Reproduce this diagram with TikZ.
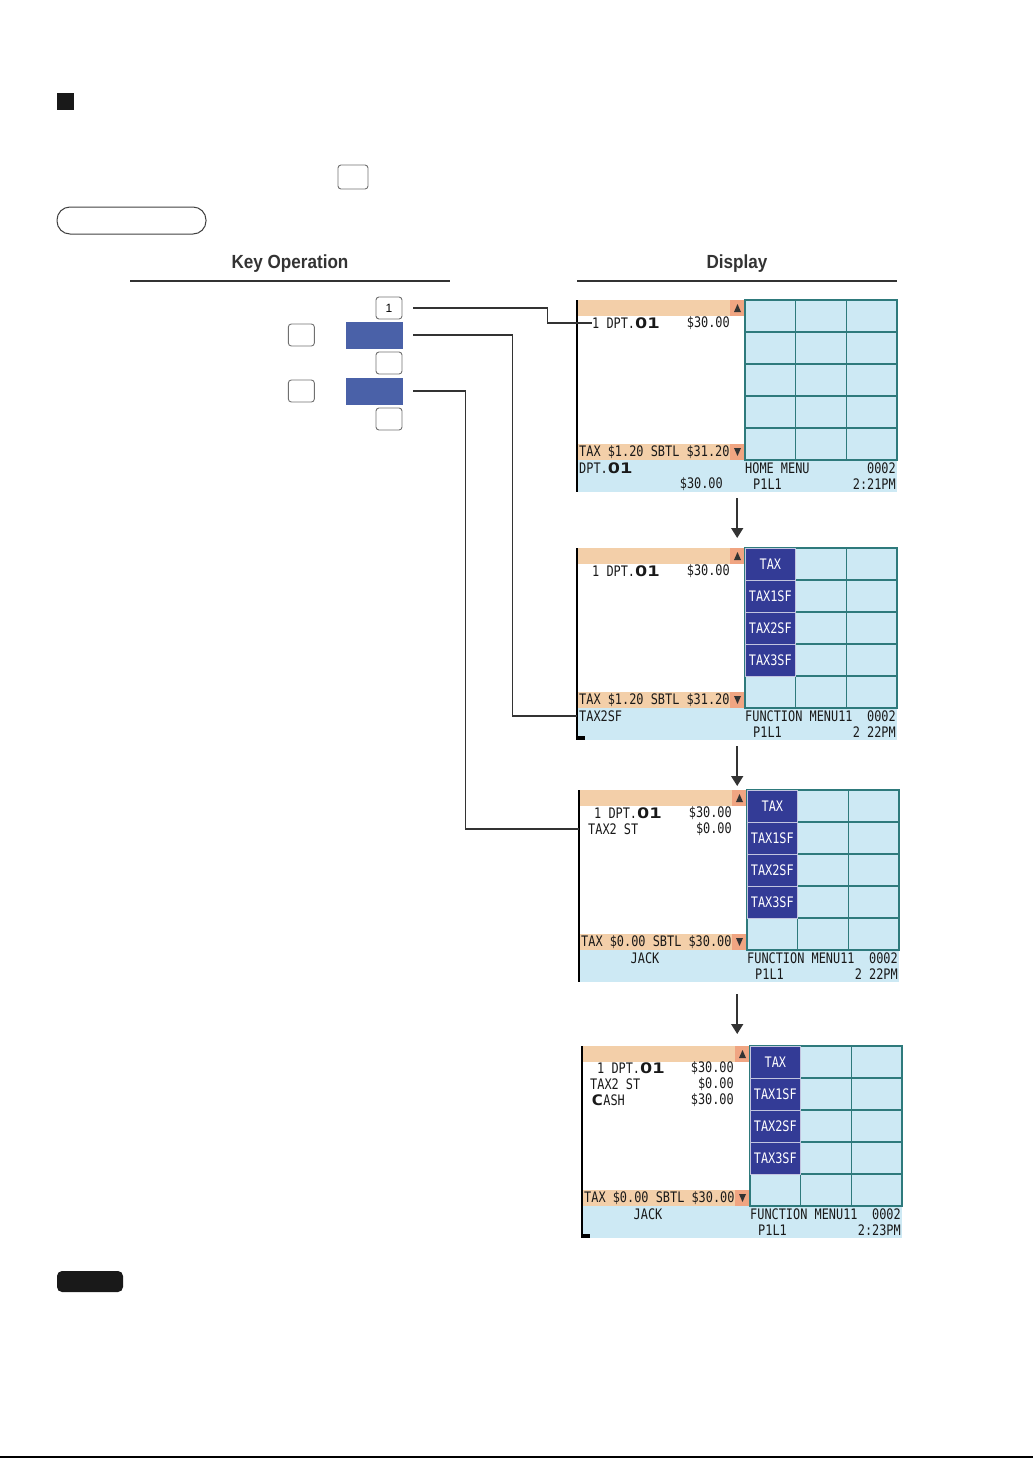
\documentclass[tikz,border=0pt]{standalone}
\usepackage{fontspec}
\setmainfont{Liberation Sans}
\newfontfamily\headfont[FakeStretch=0.9]{Liberation Sans}
\newfontfamily\lcdfont[FakeStretch=0.82]{DejaVu Sans Mono}
\newfontfamily\lcdwide[FakeStretch=1.4]{DejaVu Sans Mono}
\usepackage{xcolor}
\usetikzlibrary{arrows.meta,positioning,calc}

\definecolor{barOrange}{HTML}{F3CFA9}
\definecolor{arrowCell}{HTML}{F0A582}
\definecolor{lcdBlue}{HTML}{CDE9F4}
\definecolor{gridTeal}{HTML}{2E7A7C}
\definecolor{keyBlue}{HTML}{4A61A8}
\definecolor{menuBlue}{HTML}{333B96}
\definecolor{lineGrey}{HTML}{333333}
\definecolor{keyGrey}{HTML}{707070}

\newcommand{\lcdtext}{\lcdfont\fontsize{14.5}{15}\selectfont}
\newcommand{\bigO}[1]{{\lcdwide\bfseries #1}}

\tikzset{
  keybox/.style={draw=keyGrey, line width=0.9pt, rounded corners=3pt, minimum width=26pt, minimum height=22pt, font=\fontsize{12}{12}\selectfont},
  fnkey/.style={fill=keyBlue, minimum width=57pt, minimum height=27pt},
  wire/.style={draw=lineGrey, line width=1.1pt},
  nextscreen/.style={draw=lineGrey, line width=1.6pt, -{Triangle[length=10pt,width=12pt]}},
  headtitle/.style={font=\headfont\bfseries\fontsize{19}{19}\selectfont, text=black!80},
  headrule/.style={draw=black!80, line width=2pt},
  lcdframe/.style={minimum width=320pt, minimum height=192pt, anchor=north west},
  lcdtxt/.style={font=\lcdtext, text=black!90, anchor=west},
  lcdright/.style={font=\lcdtext, text=black!90, anchor=east},
  menucell/.style={fill=menuBlue, draw=white!70!menuBlue, line width=0.8pt, minimum width=50.67pt, minimum height=32pt, text=white, font=\lcdtext},
  screen/.pic={
    \fill[barOrange] (0,0) rectangle (153,16);
    \fill[arrowCell] (153,0) rectangle (168,16);
    \fill[barOrange] (0,144) rectangle (153,160);
    \fill[arrowCell] (153,144) rectangle (168,160);
    \fill[lcdBlue] (0,160) rectangle (320,192);
    \foreach \c in {0,1,2}
      \foreach \r in {0,...,4}
        \filldraw[fill=lcdBlue, draw=gridTeal, line width=1.2pt] ({168+\c*50.67},{\r*32}) rectangle ++(50.67,32);
    \fill[lineGrey] (157,12) -- (164,12) -- (160.5,4) -- cycle;
    \fill[lineGrey] (157,148) -- (164,148) -- (160.5,156) -- cycle;
    \draw[black, line width=1.4pt] (0,0) -- (0,192);
  },
  fnmenu/.pic={
    \foreach \lbl [count=\r from 0] in {TAX,TAX1SF,TAX2SF,TAX3SF}
      \node[menucell] (m\r) at ({168+25.33},{\r*32+16}) {\lbl};
  }
}

\begin{document}
\begin{tikzpicture}[x=1pt, y=-1pt, every node/.style={inner sep=0pt}]
\useasboundingbox (0,0) rectangle (1033,1459);

% top marks
\node[fill=black!90, minimum size=17pt, anchor=north west] (mark) at (57,93) {};
\node[keybox, minimum width=30pt, minimum height=24pt] (topkey) at (353,177) {};
\node[draw=black!75, line width=1pt, rounded corners=13pt, minimum width=149pt, minimum height=27pt] (pill) at (131.5,220.5) {};

% headings
\node[headtitle] (keyhead) at (290,264) {Key Operation};
\node[headtitle] (disphead) at (737,264) {Display};
\draw[headrule] (130,281) -- (450,281);
\draw[headrule] (577,281) -- (897,281);

% key operation
\node[keybox] (key1) at (389,308) {1};
\node[fnkey] (fn1) at (374.5,335) {};
\node[keybox, left=31pt of fn1] (keyA) {};
\node[keybox] (key3) at (389,363) {};
\node[fnkey] (fn2) at (374.5,391) {};
\node[keybox, left=31pt of fn2] (keyB) {};
\node[keybox] (key5) at (389,419) {};

% display 1
\begin{scope}[shift={(577,300)}]
\pic at (0,0) {screen};
\node[lcdframe] (d1) at (0,0) {};
\node[lcdtxt] (d1l1) at (15,23) {1 DPT.\bigO{O1}};
\node[lcdright] (d1a1) at (153,23) {\$30.00};
\node[lcdtxt] (d1bar) at (2,152) {TAX \$1.20 SBTL \$31.20};
\node[lcdtxt] (d1i1) at (2,168) {DPT.\bigO{O1}};
\node[lcdtxt] (d1menu) at (168,168) {HOME MENU};
\node[lcdright] (d1no) at (319,168) {0002};
\node[lcdright] (d1i2) at (146,184) {\$30.00};
\node[lcdtxt] (d1pos) at (176,184) {P1L1};
\node[lcdright] (d1time) at (319,184) {2:21PM};
\end{scope}

% display 2
\begin{scope}[shift={(577,548)}]
\pic at (0,0) {screen};
\pic at (0,0) {fnmenu};
\node[lcdframe] (d2) at (0,0) {};
\node[lcdtxt] (d2l1) at (15,23) {1 DPT.\bigO{O1}};
\node[lcdright] (d2a1) at (153,23) {\$30.00};
\node[lcdtxt] (d2bar) at (2,152) {TAX \$1.20 SBTL \$31.20};
\node[lcdtxt] (d2i1) at (2,168) {TAX2SF};
\node[lcdtxt] (d2menu) at (168,168) {FUNCTION MENU11};
\node[lcdright] (d2no) at (319,168) {0002};
\node[lcdtxt] (d2pos) at (176,184) {P1L1};
\node[lcdright] (d2time) at (319,184) {2 22PM};
\fill[black] (0,188) rectangle (8,192);
\end{scope}

% display 3
\begin{scope}[shift={(579,790)}]
\pic at (0,0) {screen};
\pic at (0,0) {fnmenu};
\node[lcdframe] (d3) at (0,0) {};
\node[lcdtxt] (d3l1) at (15,23) {1 DPT.\bigO{O1}};
\node[lcdright] (d3a1) at (153,23) {\$30.00};
\node[lcdtxt] (d3l2) at (9,39) {TAX2 ST};
\node[lcdright] (d3a2) at (153,39) {\$0.00};
\node[lcdtxt] (d3bar) at (2,152) {TAX \$0.00 SBTL \$30.00};
\node[lcdtxt, anchor=center] (d3i1) at (66,168) {JACK};
\node[lcdtxt] (d3menu) at (168,168) {FUNCTION MENU11};
\node[lcdright] (d3no) at (319,168) {0002};
\node[lcdtxt] (d3pos) at (176,184) {P1L1};
\node[lcdright] (d3time) at (319,184) {2 22PM};
\end{scope}

% display 4
\begin{scope}[shift={(582,1046)}]
\pic at (0,0) {screen};
\pic at (0,0) {fnmenu};
\node[lcdframe] (d4) at (0,0) {};
\node[lcdtxt] (d4l1) at (15,22) {1 DPT.\bigO{O1}};
\node[lcdright] (d4a1) at (152,22) {\$30.00};
\node[lcdtxt] (d4l2) at (8,38) {TAX2 ST};
\node[lcdright] (d4a2) at (152,38) {\$0.00};
\node[lcdtxt] (d4l3) at (9,54) {\bigO{C}ASH};
\node[lcdright] (d4a3) at (152,54) {\$30.00};
\node[lcdtxt] (d4bar) at (2,152) {TAX \$0.00 SBTL \$30.00};
\node[lcdtxt, anchor=center] (d4i1) at (66,168) {JACK};
\node[lcdtxt] (d4menu) at (168,168) {FUNCTION MENU11};
\node[lcdright] (d4no) at (319,168) {0002};
\node[lcdtxt] (d4pos) at (176,184) {P1L1};
\node[lcdright] (d4time) at (319,184) {2:23PM};
\fill[black] (0,188) rectangle (8,192);
\end{scope}

% connectors
\draw[wire] ([xshift=11pt]key1.east) -- ++(134,0) |- (d1l1.west);
\draw[wire] ([xshift=10pt]fn1.east) -- ++(99,0) |- (d2.west |- d2i1.west);
\draw[wire] ([xshift=10pt]fn2.east) -- ++(52,0) |- (d3.west |- d3l2.west);

\draw[nextscreen] ([yshift=-6pt]d1.south) -- ([yshift=10pt]d2.north);
\draw[nextscreen] ([yshift=-6pt]d2.south) -- ([yshift=4pt]d2.south |- d3.north);
\draw[nextscreen] ([xshift=-2pt,yshift=-12pt]d3.south) -- ([xshift=-2pt,yshift=12pt]d3.south |- d4.north);

% note tag and page rule
\node[fill=black!90, rounded corners=5pt, minimum width=66pt, minimum height=21pt] (notetag) at (90,1281.5) {};
\draw[line width=1.5pt] (0,1457) -- (1033,1457);
\end{tikzpicture}
\end{document}
